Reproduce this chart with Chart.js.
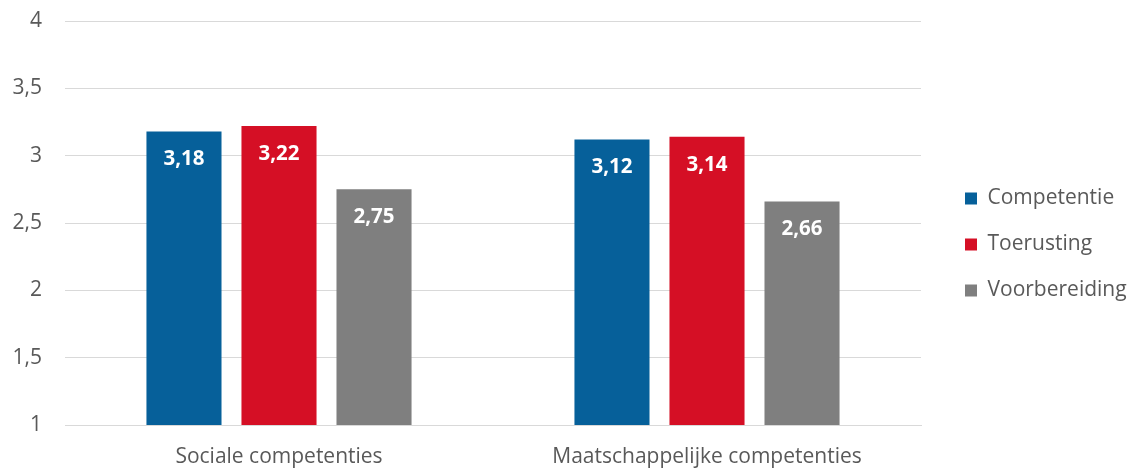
<!DOCTYPE html>
<html>
<head>
<meta charset="utf-8">
<script src="https://cdn.jsdelivr.net/npm/chart.js@4.4.0/dist/chart.umd.min.js"></script>
<style>
  html, body { margin: 0; padding: 0; background: #fff; }
  #wrap { width: 1128px; height: 468px; }
</style>
</head>
<body>
<div id="wrap"><canvas id="chart" width="1128" height="468"></canvas></div>
<script>
// chart data
const categories = ['Sociale competenties', 'Maatschappelijke competenties'];
const seriesNames = ['Competentie', 'Toerusting', 'Voorbereiding'];
const competentie = [3.18, 3.12];
const toerusting = [3.22, 3.14];
const voorbereiding = [2.75, 2.66];
const seriesColors = ['#06609A', '#D50F25', '#7F7F7F'];

const FONT = "'Open Sans', sans-serif";
const textColor = '#595959';
const gridColor = '#D9D9D9';

const fmt = v => String(v).replace('.', ',');

// white value labels inside the top of each bar
const barLabels = {
  id: 'barLabels',
  afterDatasetsDraw(chart) {
    const ctx = chart.ctx;
    ctx.save();
    ctx.font = 'bold 20.5px ' + FONT;
    ctx.fillStyle = '#ffffff';
    ctx.textAlign = 'center';
    ctx.textBaseline = 'middle';
    chart.data.datasets.forEach((ds, i) => {
      chart.getDatasetMeta(i).data.forEach((bar, j) => {
        ctx.fillText(fmt(ds.data[j].toFixed(2)), bar.x, bar.y + 28);
      });
    });
    ctx.restore();
  }
};

Chart.defaults.font.family = FONT;
Chart.defaults.color = textColor;

new Chart(document.getElementById('chart'), {
  type: 'bar',
  data: {
    labels: categories,
    datasets: [
      { label: seriesNames[0], data: competentie, backgroundColor: seriesColors[0] },
      { label: seriesNames[1], data: toerusting, backgroundColor: seriesColors[1] },
      { label: seriesNames[2], data: voorbereiding, backgroundColor: seriesColors[2] }
    ]
  },
  options: {
    responsive: false,
    devicePixelRatio: 1,
    animation: false,
    categoryPercentage: 0.666,
    barPercentage: 0.79,
    layout: { padding: { top: 21, bottom: 0, left: 0, right: 0 } },
    plugins: {
      tooltip: { enabled: false },
      legend: {
        position: 'right',
        labels: {
          boxWidth: 12,
          boxHeight: 12,
          padding: 25,
          color: textColor,
          font: { size: 21, family: FONT }
        }
      }
    },
    scales: {
      x: {
        grid: { display: false },
        border: { color: gridColor },
        ticks: { color: textColor, padding: 11, font: { size: 21 } },
        afterFit: s => { s.height = 43; s.paddingLeft = 0; s.paddingRight = 0; }
      },
      y: {
        min: 1,
        max: 4,
        ticks: {
          stepSize: 0.5,
          padding: 23,
          color: textColor,
          font: { size: 21 },
          callback: v => fmt(v)
        },
        grid: { color: gridColor, drawTicks: false },
        border: { display: false },
        afterFit: s => { s.width = 65; s.paddingTop = 0; s.paddingBottom = 0; }
      },
      gap: {
        position: 'right',
        display: true,
        grid: { display: false },
        border: { display: false },
        ticks: { display: false },
        afterFit: s => { s.width = 19; s.paddingTop = 0; s.paddingBottom = 0; }
      }
    }
  },
  plugins: [barLabels]
});
</script>
</body>
</html>
